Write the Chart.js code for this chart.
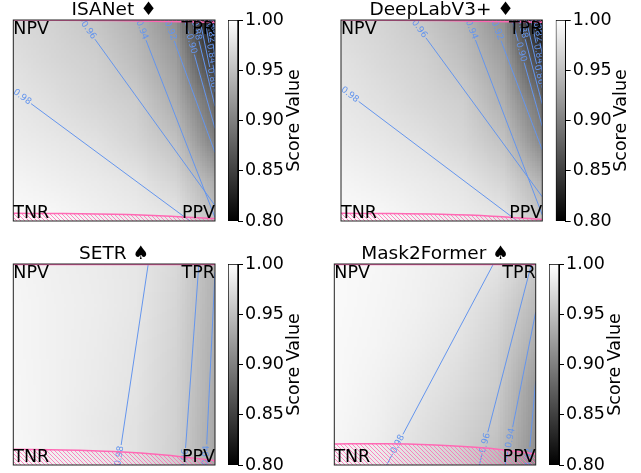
<!DOCTYPE html>
<html>
<head>
<meta charset="utf-8">
<script src="https://cdn.jsdelivr.net/npm/chart.js@4/dist/chart.umd.min.js"></script>
<style>
  html, body { margin: 0; padding: 0; background: #fff; }
  #fig { position: relative; width: 641px; height: 473px; overflow: hidden; background: #fff; }
  #fig canvas { position: absolute; }
</style>
</head>
<body>
<div id="fig"></div>
<script>
// ---------------- values ----------------
const panelTitles = ['ISANet ♦', 'DeepLabV3+ ♦', 'SETR ♠', 'Mask2Former ♠'];
const cornerNames = ['NPV', 'TPR', 'TNR', 'PPV']; // top-left, top-right, bottom-left, bottom-right
const colorbarTicks = [0.80, 0.85, 0.90, 0.95, 1.00];
const colorbarRange = [0.80, 1.00];
const colorbarTitle = 'Score Value';

// score field sampled on a regular grid: rows from y=1 (top) to y=0, columns x=0..1
const gridSteps = [0, 0.2, 0.4, 0.6, 0.8, 1.0];
const scoreISANet = [
  [0.970, 0.965, 0.955, 0.941, 0.912, 0.770],
  [0.976, 0.969, 0.963, 0.949, 0.925, 0.840],
  [0.981, 0.975, 0.968, 0.961, 0.936, 0.880],
  [0.986, 0.982, 0.977, 0.968, 0.952, 0.900],
  [0.992, 0.988, 0.984, 0.980, 0.967, 0.935],
  [0.997, 0.995, 0.990, 0.986, 0.982, 0.950]
];
const scoreDeepLab = [
  [0.971, 0.966, 0.957, 0.943, 0.914, 0.775],
  [0.977, 0.970, 0.964, 0.951, 0.927, 0.845],
  [0.981, 0.976, 0.969, 0.962, 0.938, 0.885],
  [0.986, 0.982, 0.977, 0.969, 0.953, 0.905],
  [0.992, 0.988, 0.984, 0.980, 0.968, 0.940],
  [0.997, 0.995, 0.990, 0.986, 0.982, 0.955]
];
const scoreSETR = [
  [0.992, 0.988, 0.985, 0.981, 0.970, 0.940],
  [0.993, 0.989, 0.986, 0.981, 0.968, 0.938],
  [0.993, 0.989, 0.985, 0.980, 0.966, 0.936],
  [0.994, 0.989, 0.984, 0.979, 0.965, 0.934],
  [0.994, 0.989, 0.983, 0.977, 0.964, 0.932],
  [0.995, 0.989, 0.984, 0.977, 0.963, 0.930]
];
const scoreMask2Former = [
  [0.996, 0.994, 0.990, 0.985, 0.979, 0.958],
  [0.996, 0.993, 0.989, 0.983, 0.970, 0.945],
  [0.995, 0.992, 0.987, 0.979, 0.965, 0.935],
  [0.995, 0.990, 0.983, 0.973, 0.961, 0.920],
  [0.994, 0.988, 0.978, 0.968, 0.955, 0.915],
  [0.993, 0.985, 0.974, 0.965, 0.947, 0.910]
];

// iso-score lines: level, end points (x, y in 0..1) and where the inline label sits (fraction along the line)
const levelsISANet = [0.98, 0.96, 0.94, 0.92, 0.90, 0.88, 0.86, 0.84, 0.82, 0.80];
const lineFromISANet = [[0, 0.649], [0.336, 1], [0.619, 1], [0.76, 1], [0.85, 1], [0.895, 1], [0.925, 1], [0.95, 1], [0.97, 1], [0.985, 1]];
const lineToISANet = [[0.876, 0], [1, 0.077], [1, 0.017], [1, 0.34], [1, 0.46], [1, 0.57], [1, 0.64], [1, 0.72], [1, 0.82], [1, 0.90]];
const labelAtISANet = [0.05, 0.055, 0.05, 0.08, 0.22, 0.12, 0.8, 0.6, 0.35, 0.3];

const levelsDeepLab = [0.98, 0.96, 0.94, 0.92, 0.90, 0.88, 0.86, 0.84, 0.82, 0.80];
const lineFromDeepLab = [[0, 0.661], [0.357, 1], [0.63, 1], [0.756, 1], [0.85, 1], [0.89, 1], [0.92, 1], [0.945, 1], [0.965, 1], [0.982, 1]];
const lineToDeepLab = [[0.876, 0], [1, 0.12], [1, 0.03], [1, 0.353], [1, 0.47], [1, 0.58], [1, 0.66], [1, 0.74], [1, 0.83], [1, 0.91]];
const labelAtDeepLab = [0.05, 0.05, 0.05, 0.08, 0.3, 0.1, 0.8, 0.65, 0.35, 0.3];

const levelsSETR = [0.98, 0.96, 0.94];
const lineFromSETR = [[0.669, 1], [0.92, 1], [1, 0.96]];
const lineToSETR = [[0.52, 0], [0.848, 0], [0.954, 0]];
const labelAtSETR = [0.955, 0.97, 0.95];

const levelsMask2Former = [0.98, 0.96, 0.94, 0.92];
const lineFromMask2Former = [[0.79, 1], [0.979, 1], [1, 0.761], [1, 0.42]];
const lineToMask2Former = [[0.26, 0], [0.72, 0], [0.848, 0], [0.963, 0]];
const labelAtMask2Former = [0.896, 0.89, 0.824, 0.917];

// hatched bands along the bottom and top edges: boundary height at each hatchX
const hatchX = [0, 0.25, 0.5, 0.75, 1];
const hatchLowISANet = [0.038, 0.037, 0.033, 0.025, 0.012];
const hatchLowDeepLab = [0.038, 0.037, 0.033, 0.024, 0.008];
const hatchLowSETR = [0.078, 0.075, 0.067, 0.050, 0.022];
const hatchLowMask2Former = [0.105, 0.106, 0.100, 0.085, 0.055];
const hatchHighISANet = [1.0, 0.999, 0.997, 0.993, 0.988];
const hatchHighDeepLab = [1.0, 0.999, 0.997, 0.993, 0.989];
const hatchHighSETR = [0.997, 0.997, 0.997, 0.997, 0.997];
const hatchHighMask2Former = [0.997, 0.997, 0.997, 0.997, 0.997];

// ---------------- drawing ----------------
Chart.defaults.font.family = '"DejaVu Sans", sans-serif';
Chart.defaults.color = '#000';

const FONT = '"DejaVu Sans", sans-serif';
const LINE_BLUE = '#6495ed';
const HATCH_PINK = '#ff69b4';

const panels = [
  { title: panelTitles[0], score: scoreISANet, levels: levelsISANet, from: lineFromISANet, to: lineToISANet, labelAt: labelAtISANet, low: hatchLowISANet, high: hatchHighISANet },
  { title: panelTitles[1], score: scoreDeepLab, levels: levelsDeepLab, from: lineFromDeepLab, to: lineToDeepLab, labelAt: labelAtDeepLab, low: hatchLowDeepLab, high: hatchHighDeepLab },
  { title: panelTitles[2], score: scoreSETR, levels: levelsSETR, from: lineFromSETR, to: lineToSETR, labelAt: labelAtSETR, low: hatchLowSETR, high: hatchHighSETR },
  { title: panelTitles[3], score: scoreMask2Former, levels: levelsMask2Former, from: lineFromMask2Former, to: lineToMask2Former, labelAt: labelAtMask2Former, low: hatchLowMask2Former, high: hatchHighMask2Former }
];

// canvas placement of each map and its colour bar
const placements = [
  { plot: { left: 0, top: 0, w: 226, h: 236, pad: { left: 13.3, right: 11, top: 0, bottom: 15 } },
    bar: { left: 228, top: 0, w: 100, h: 236, pad: { left: 0, right: 30, top: 20, bottom: 15 } } },
  { plot: { left: 320, top: 0, w: 226, h: 236, pad: { left: 21, right: 3.7, top: 0, bottom: 15 } },
    bar: { left: 555, top: 0, w: 86, h: 236, pad: { left: 0.7, right: 15.3, top: 20, bottom: 15 } } },
  { plot: { left: 0, top: 244, w: 226, h: 236, pad: { left: 13.3, right: 11, top: 0, bottom: 15 } },
    bar: { left: 228, top: 244, w: 100, h: 236, pad: { left: 0, right: 30, top: 20, bottom: 15 } } },
  { plot: { left: 320, top: 244, w: 226, h: 236, pad: { left: 14.3, right: 10.3, top: 0, bottom: 15 } },
    bar: { left: 549, top: 244, w: 92, h: 236, pad: { left: 0, right: 22, top: 20, bottom: 15 } } }
];

const fig = document.getElementById('fig');
function addCanvas(p) {
  const c = document.createElement('canvas');
  c.width = p.w; c.height = p.h;
  c.style.left = p.left + 'px'; c.style.top = p.top + 'px';
  c.style.width = p.w + 'px'; c.style.height = p.h + 'px';
  fig.appendChild(c);
  return c;
}

function grayLevel(v) {
  const t = (v - colorbarRange[0]) / (colorbarRange[1] - colorbarRange[0]);
  return Math.round(255 * Math.min(1, Math.max(0, t)));
}

// tiny image: one pixel per grid node, smoothed when stretched over the plot
function scoreImage(grid) {
  const rows = grid.length, cols = grid[0].length;
  const c = document.createElement('canvas');
  c.width = cols; c.height = rows;
  const g = c.getContext('2d');
  const img = g.createImageData(cols, rows);
  grid.forEach((row, r) => row.forEach((v, k) => {
    const o = 4 * (r * cols + k), s = grayLevel(v);
    img.data[o] = img.data[o + 1] = img.data[o + 2] = s;
    img.data[o + 3] = 255;
  }));
  g.putImageData(img, 0, 0);
  return c;
}

function hatchPattern(ctx) {
  const c = document.createElement('canvas');
  c.width = 4; c.height = 4;
  const g = c.getContext('2d');
  g.strokeStyle = HATCH_PINK;
  g.lineWidth = 0.8;
  g.beginPath();
  g.moveTo(-1, -1); g.lineTo(5, 5);
  g.moveTo(-1, 3); g.lineTo(1, 5);
  g.moveTo(3, -1); g.lineTo(5, 1);
  g.stroke();
  return ctx.createPattern(c, 'repeat');
}

// points of one iso-line, broken where its label goes
const LABEL_GAP = 0.055;
function isoLinePoints(a, b, t) {
  const len = Math.hypot(b[0] - a[0], b[1] - a[1]);
  const g = LABEL_GAP / len;
  const at = s => ({ x: a[0] + (b[0] - a[0]) * s, y: a[1] + (b[1] - a[1]) * s });
  const pts = [];
  if (t - g > 0) { pts.push({ x: a[0], y: a[1] }, at(t - g)); }
  pts.push({ x: at(t).x, y: null });
  if (t + g < 1) { pts.push(at(t + g), { x: b[0], y: b[1] }); }
  return pts;
}

function makeMap(panel, place) {
  const canvas = addCanvas(place.plot);
  const ctx0 = canvas.getContext('2d');
  const pattern = hatchPattern(ctx0);
  const image = scoreImage(panel.score);

  const datasets = [
    {
      data: panel.low.map((y, k) => ({ x: hatchX[k], y })),
      fill: 'start', backgroundColor: pattern, borderColor: HATCH_PINK, borderWidth: 1.5,
      pointRadius: 0, cubicInterpolationMode: 'monotone', order: 0, clip: 0
    },
    {
      data: panel.high.map((y, k) => ({ x: hatchX[k], y })),
      fill: 'end', backgroundColor: pattern, borderColor: HATCH_PINK, borderWidth: 1.5,
      pointRadius: 0, cubicInterpolationMode: 'monotone', order: 0, clip: 0
    }
  ];
  panel.levels.forEach((lv, k) => {
    datasets.push({
      data: isoLinePoints(panel.from[k], panel.to[k], panel.labelAt[k]),
      borderColor: LINE_BLUE, borderWidth: 1, pointRadius: 0, fill: false,
      spanGaps: false, order: 1, clip: 0,
      isoText: lv.toFixed(2), isoFrom: panel.from[k], isoTo: panel.to[k], isoAt: panel.labelAt[k]
    });
  });

  const fieldPlugin = {
    id: 'scoreField',
    beforeDatasetsDraw(chart) {
      const { ctx, chartArea: ca, scales: { x, y } } = chart;
      const half = (gridSteps[1] - gridSteps[0]) / 2;
      const x0 = x.getPixelForValue(gridSteps[0] - half);
      const x1 = x.getPixelForValue(gridSteps[gridSteps.length - 1] + half);
      const y0 = y.getPixelForValue(gridSteps[gridSteps.length - 1] + half);
      const y1 = y.getPixelForValue(gridSteps[0] - half);
      ctx.save();
      ctx.beginPath();
      ctx.rect(ca.left, ca.top, ca.right - ca.left, ca.bottom - ca.top);
      ctx.clip();
      ctx.imageSmoothingEnabled = true;
      ctx.drawImage(image, x0, y0, x1 - x0, y1 - y0);
      ctx.restore();
    }
  };

  const isoLabelPlugin = {
    id: 'isoLabels',
    afterDatasetDraw(chart, args) {
      const ds = chart.data.datasets[args.index];
      if (!ds.isoText) return;
      const { ctx, chartArea: ca, scales: { x, y } } = chart;
      const ax = x.getPixelForValue(ds.isoFrom[0]), ay = y.getPixelForValue(ds.isoFrom[1]);
      const bx = x.getPixelForValue(ds.isoTo[0]), by = y.getPixelForValue(ds.isoTo[1]);
      const px = ax + (bx - ax) * ds.isoAt, py = ay + (by - ay) * ds.isoAt;
      let ang = Math.atan2(by - ay, bx - ax);
      if (ang > Math.PI / 2) ang -= Math.PI;
      if (ang <= -Math.PI / 2) ang += Math.PI;
      ctx.save();
      ctx.beginPath();
      ctx.rect(ca.left, ca.top, ca.right - ca.left, ca.bottom - ca.top);
      ctx.clip();
      ctx.translate(px, py);
      ctx.rotate(ang);
      ctx.fillStyle = LINE_BLUE;
      ctx.font = '9px ' + FONT;
      ctx.textAlign = 'center';
      ctx.textBaseline = 'middle';
      ctx.fillText(ds.isoText, 0, 0);
      ctx.restore();
    }
  };

  const framePlugin = {
    id: 'frameAndCorners',
    afterDatasetsDraw(chart) {
      const { ctx, chartArea: ca } = chart;
      ctx.save();
      ctx.strokeStyle = '#222';
      ctx.lineWidth = 1;
      ctx.strokeRect(ca.left, ca.top, ca.right - ca.left, ca.bottom - ca.top);
      ctx.fillStyle = '#000';
      ctx.font = '17.5px ' + FONT;
      ctx.textBaseline = 'top';
      ctx.textAlign = 'left';  ctx.fillText(cornerNames[0], ca.left, ca.top + 1);
      ctx.textAlign = 'right'; ctx.fillText(cornerNames[1], ca.right, ca.top + 1);
      ctx.textBaseline = 'bottom';
      ctx.textAlign = 'left';  ctx.fillText(cornerNames[2], ca.left, ca.bottom + 1);
      ctx.textAlign = 'right'; ctx.fillText(cornerNames[3], ca.right, ca.bottom + 1);
      ctx.restore();
    }
  };

  return new Chart(canvas, {
    type: 'line',
    data: { datasets },
    options: {
      responsive: false, animation: false, events: [],
      layout: { padding: place.plot.pad },
      plugins: {
        legend: { display: false },
        tooltip: { enabled: false },
        title: {
          display: true, text: panel.title, color: '#000',
          font: { family: FONT, size: 18.5, weight: 'normal', lineHeight: 20 / 18.5 },
          padding: { top: 0, bottom: 0 }
        }
      },
      scales: {
        x: { type: 'linear', min: 0, max: 1, display: false },
        y: { type: 'linear', min: 0, max: 1, display: false }
      }
    },
    plugins: [fieldPlugin, isoLabelPlugin, framePlugin]
  });
}

function makeColorbar(place) {
  const canvas = addCanvas(place.bar);
  const titlePlugin = {
    id: 'barTitle',
    afterDraw(chart) {
      const { ctx, chartArea: ca } = chart;
      ctx.save();
      ctx.translate(ca.right + 56, (ca.top + ca.bottom) / 2);
      ctx.rotate(-Math.PI / 2);
      ctx.fillStyle = '#000';
      ctx.font = '17.5px ' + FONT;
      ctx.textAlign = 'center';
      ctx.textBaseline = 'middle';
      ctx.fillText(colorbarTitle, 0, 0);
      ctx.restore();
    }
  };
  return new Chart(canvas, {
    type: 'bar',
    data: {
      labels: [''],
      datasets: [{
        data: [[colorbarRange[0], colorbarRange[1]]],
        backgroundColor: (c) => {
          const { ctx, chartArea } = c.chart;
          if (!chartArea) return '#808080';
          const g = ctx.createLinearGradient(0, chartArea.bottom, 0, chartArea.top);
          g.addColorStop(0, '#000');
          g.addColorStop(1, '#fff');
          return g;
        },
        borderColor: '#000', borderWidth: 1, borderSkipped: false,
        barPercentage: 1, categoryPercentage: 1
      }]
    },
    options: {
      responsive: false, animation: false, events: [],
      layout: { padding: place.bar.pad },
      plugins: { legend: { display: false }, tooltip: { enabled: false } },
      scales: {
        x: { display: false },
        y: {
          position: 'right', min: colorbarRange[0], max: colorbarRange[1],
          afterBuildTicks: (s) => { s.ticks = colorbarTicks.map(v => ({ value: v })); },
          afterFit: (s) => { s.width = 60; },
          ticks: { callback: (v) => Number(v).toFixed(2), color: '#000', padding: 2,
                   font: { family: FONT, size: 17.5 } },
          grid: { drawOnChartArea: false, drawTicks: true, tickLength: 5, color: '#000', lineWidth: 1 },
          border: { display: true, color: '#000' }
        }
      }
    },
    plugins: [titlePlugin]
  });
}

panels.forEach((p, i) => {
  makeMap(p, placements[i]);
  makeColorbar(placements[i]);
});
</script>
</body>
</html>
